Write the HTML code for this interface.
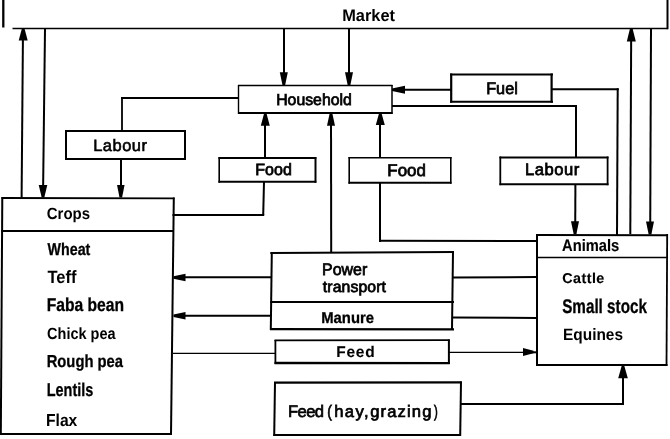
<!DOCTYPE html>
<html><head><meta charset="utf-8"><style>
html,body{margin:0;padding:0;background:#fff;width:670px;height:439px;overflow:hidden}
svg{display:block;filter:grayscale(1)}
text{font-family:"Liberation Sans",sans-serif;fill:#000;text-rendering:geometricPrecision}
</style></head><body>
<svg width="670" height="439" viewBox="0 0 670 439">
<g stroke="#000" fill="none" stroke-linecap="butt">
<line x1="3.3" y1="0" x2="3.3" y2="27.5" stroke-width="2.3"/>
<line x1="12.5" y1="28.5" x2="668" y2="28.5" stroke-width="1.4"/>
<line x1="667.5" y1="0" x2="667.5" y2="29.2" stroke-width="2"/>
<line x1="23" y1="29" x2="21.6" y2="197.5" stroke-width="2"/>
<polygon points="21.90,28.50 24.50,28.50 27.70,40.50 18.70,40.50" fill="#000" stroke="none"/>
<line x1="45" y1="29" x2="43" y2="197" stroke-width="2"/>
<polygon points="41.70,197.50 44.30,197.50 47.30,185.00 38.70,185.00" fill="#000" stroke="none"/>
<line x1="284" y1="29" x2="284" y2="85" stroke-width="2"/>
<polygon points="282.50,85.20 285.10,85.20 287.80,72.20 279.80,72.20" fill="#000" stroke="none"/>
<line x1="349" y1="29" x2="349" y2="85" stroke-width="2"/>
<polygon points="347.70,85.20 350.30,85.20 353.00,72.20 345.00,72.20" fill="#000" stroke="none"/>
<line x1="631.2" y1="29" x2="630.3" y2="234" stroke-width="2"/>
<polygon points="630.00,28.50 632.60,28.50 635.80,41.50 626.80,41.50" fill="#000" stroke="none"/>
<line x1="651" y1="29" x2="650.2" y2="234" stroke-width="2"/>
<polygon points="648.70,234.50 651.30,234.50 654.00,221.50 646.00,221.50" fill="#000" stroke="none"/>
<line x1="238" y1="85.5" x2="392.5" y2="85.5" stroke-width="1.3"/>
<line x1="238" y1="113" x2="392.5" y2="113" stroke-width="2"/>
<line x1="238.5" y1="85" x2="238.5" y2="114" stroke-width="1.4"/>
<line x1="392" y1="85" x2="392" y2="114" stroke-width="1.5"/>
<line x1="239" y1="98" x2="121" y2="98" stroke-width="1.8"/>
<line x1="122" y1="97.1" x2="122" y2="131" stroke-width="1.8"/>
<line x1="65" y1="131" x2="185.5" y2="131" stroke-width="2"/>
<line x1="65" y1="159" x2="185.5" y2="159" stroke-width="2"/>
<line x1="66" y1="130" x2="66" y2="160" stroke-width="2"/>
<line x1="185" y1="130" x2="185" y2="160" stroke-width="2"/>
<line x1="121" y1="159" x2="121" y2="197" stroke-width="2"/>
<polygon points="119.50,197.50 122.10,197.50 124.55,185.00 117.05,185.00" fill="#000" stroke="none"/>
<line x1="218.5" y1="158" x2="316.3" y2="158" stroke-width="2"/>
<line x1="218.5" y1="181.8" x2="316.3" y2="181.8" stroke-width="2"/>
<line x1="219.2" y1="157" x2="219.2" y2="182.8" stroke-width="1.6"/>
<line x1="315.5" y1="157" x2="315.5" y2="182.8" stroke-width="2"/>
<line x1="265" y1="157" x2="265" y2="114" stroke-width="2"/>
<polygon points="264.00,113.80 266.60,113.80 269.80,125.80 260.80,125.80" fill="#000" stroke="none"/>
<line x1="264" y1="182" x2="263.2" y2="215" stroke-width="2"/>
<line x1="264.2" y1="215" x2="172.5" y2="215" stroke-width="2"/>
<line x1="331.2" y1="252.6" x2="331" y2="114" stroke-width="2"/>
<polygon points="329.70,113.20 332.30,113.20 335.00,125.80 327.00,125.80" fill="#000" stroke="none"/>
<line x1="348.5" y1="157.8" x2="451.5" y2="157.8" stroke-width="1.6"/>
<line x1="348.5" y1="182.8" x2="451.5" y2="182.8" stroke-width="2"/>
<line x1="349.2" y1="157" x2="349.2" y2="183.8" stroke-width="1.6"/>
<line x1="450.8" y1="157" x2="450.8" y2="183.8" stroke-width="1.6"/>
<line x1="380" y1="157" x2="380" y2="114" stroke-width="2"/>
<polygon points="379.00,113.50 381.60,113.50 384.80,125.00 375.80,125.00" fill="#000" stroke="none"/>
<line x1="380" y1="183" x2="380" y2="242" stroke-width="2"/>
<line x1="379" y1="240.7" x2="537" y2="241" stroke-width="2"/>
<line x1="450" y1="74.5" x2="553" y2="74.5" stroke-width="2"/>
<line x1="450" y1="101.7" x2="553" y2="101.7" stroke-width="2"/>
<line x1="451.2" y1="73.5" x2="451.2" y2="102.7" stroke-width="2.2"/>
<line x1="551.6" y1="73.5" x2="551.6" y2="102.7" stroke-width="2.2"/>
<line x1="404" y1="89.8" x2="451" y2="89.8" stroke-width="2"/>
<polygon points="392.00,88.40 392.00,91.00 405.00,93.70 405.00,85.70" fill="#000" stroke="none"/>
<line x1="552" y1="89.2" x2="618.7" y2="89.2" stroke-width="2"/>
<line x1="617.7" y1="88.2" x2="617" y2="235" stroke-width="2"/>
<line x1="392" y1="106" x2="577" y2="106" stroke-width="2"/>
<line x1="576" y1="105" x2="576" y2="157.5" stroke-width="2"/>
<line x1="499.5" y1="157.5" x2="608.5" y2="157.5" stroke-width="2"/>
<line x1="499.5" y1="184.2" x2="608.5" y2="184.2" stroke-width="2"/>
<line x1="500.3" y1="156.5" x2="500.3" y2="185.2" stroke-width="1.8"/>
<line x1="607.6" y1="156.5" x2="607.6" y2="185.2" stroke-width="1.8"/>
<line x1="575.4" y1="184" x2="575.2" y2="234" stroke-width="2"/>
<polygon points="573.70,234.20 576.30,234.20 579.00,221.20 571.00,221.20" fill="#000" stroke="none"/>
<line x1="1.5" y1="198" x2="174.5" y2="198.3" stroke-width="1.8"/>
<line x1="2.3" y1="197" x2="0.8" y2="435" stroke-width="2"/>
<line x1="173.8" y1="197.5" x2="171" y2="435" stroke-width="2"/>
<line x1="0" y1="434" x2="172" y2="434" stroke-width="2"/>
<line x1="1.5" y1="231" x2="173.5" y2="231" stroke-width="2"/>
<line x1="536" y1="235" x2="668" y2="235.2" stroke-width="2"/>
<line x1="536" y1="365" x2="667.5" y2="365" stroke-width="2"/>
<line x1="537" y1="234" x2="537" y2="366" stroke-width="2"/>
<line x1="667.2" y1="234" x2="666.5" y2="366" stroke-width="1.8"/>
<line x1="537" y1="257.5" x2="667" y2="257.5" stroke-width="1.6"/>
<line x1="270.3" y1="253.1" x2="454" y2="251.9" stroke-width="2"/>
<line x1="270.3" y1="302" x2="454" y2="302" stroke-width="1.8"/>
<line x1="270" y1="329.2" x2="454" y2="329.4" stroke-width="2.2"/>
<line x1="271.8" y1="252" x2="270.8" y2="330" stroke-width="2"/>
<line x1="453" y1="251" x2="452" y2="329.5" stroke-width="2"/>
<line x1="185" y1="277.3" x2="271" y2="277.3" stroke-width="2"/>
<polygon points="173.50,276.20 173.50,278.80 185.50,281.25 185.50,273.75" fill="#000" stroke="none"/>
<line x1="185" y1="315.8" x2="271" y2="315.8" stroke-width="2"/>
<polygon points="173.50,314.50 173.50,317.10 185.50,319.55 185.50,312.05" fill="#000" stroke="none"/>
<line x1="453" y1="277.4" x2="537" y2="277" stroke-width="2"/>
<line x1="453" y1="317.6" x2="537" y2="318" stroke-width="2"/>
<line x1="274.5" y1="340.3" x2="449.8" y2="340.1" stroke-width="1.8"/>
<line x1="274.5" y1="363" x2="449.8" y2="363.2" stroke-width="2.3"/>
<line x1="275.4" y1="340" x2="275.4" y2="364" stroke-width="1.8"/>
<line x1="448.9" y1="339.5" x2="448.9" y2="364" stroke-width="2"/>
<line x1="173" y1="353.4" x2="275" y2="353.4" stroke-width="1.2"/>
<line x1="449" y1="352.3" x2="524" y2="352.3" stroke-width="1.2"/>
<polygon points="533.50,350.70 533.50,353.30 523.00,356.00 523.00,348.00" fill="#000" stroke="none"/>
<line x1="531" y1="352.3" x2="537" y2="352.3" stroke-width="2"/>
<line x1="274" y1="382.6" x2="461.8" y2="382.3" stroke-width="2.2"/>
<line x1="273.5" y1="435" x2="461" y2="435" stroke-width="2"/>
<line x1="275" y1="382" x2="274.2" y2="436" stroke-width="2"/>
<line x1="461" y1="381.5" x2="460.2" y2="436" stroke-width="2"/>
<line x1="460" y1="403.9" x2="624" y2="403.9" stroke-width="2"/>
<line x1="623" y1="405" x2="623" y2="366" stroke-width="2"/>
<polygon points="621.70,365.80 624.30,365.80 627.80,378.20 618.20,378.20" fill="#000" stroke="none"/>
</g>
<g>
<text x="342.20" y="21.30" font-size="16.68" font-weight="700" stroke="#000" stroke-width="0.0" textLength="52.80" lengthAdjust="spacingAndGlyphs" xml:space="preserve">Market</text>
<text x="276.20" y="105.30" font-size="15.91" font-weight="400" stroke="#000" stroke-width="0.75" textLength="75.60" lengthAdjust="spacingAndGlyphs" xml:space="preserve">Household</text>
<text x="486.20" y="93.90" font-size="16.60" font-weight="400" stroke="#000" stroke-width="0.75" textLength="31.60" lengthAdjust="spacingAndGlyphs" xml:space="preserve">Fuel</text>
<text x="93.20" y="150.80" font-size="16.47" font-weight="400" stroke="#000" stroke-width="0.6" textLength="53.80" lengthAdjust="spacing" xml:space="preserve">Labour</text>
<text x="255.30" y="175.10" font-size="16.30" font-weight="400" stroke="#000" stroke-width="0.75" textLength="36.50" lengthAdjust="spacingAndGlyphs" xml:space="preserve">Food</text>
<text x="387.30" y="176.00" font-size="16.90" font-weight="400" stroke="#000" stroke-width="0.75" textLength="38.60" lengthAdjust="spacing" xml:space="preserve">Food</text>
<text x="525.00" y="175.10" font-size="16.60" font-weight="400" stroke="#000" stroke-width="0.75" textLength="54.20" lengthAdjust="spacing" xml:space="preserve">Labour</text>
<text x="46.80" y="218.50" font-size="16.20" font-weight="700" stroke="#000" stroke-width="0.0" textLength="43.30" lengthAdjust="spacingAndGlyphs" xml:space="preserve">Crops</text>
<text x="47.60" y="255.40" font-size="17.07" font-weight="700" stroke="#000" stroke-width="0.3" textLength="42.70" lengthAdjust="spacingAndGlyphs" xml:space="preserve">Wheat</text>
<text x="47.50" y="282.60" font-size="17.84" font-weight="700" stroke="#000" stroke-width="0.0" textLength="29.00" lengthAdjust="spacingAndGlyphs" xml:space="preserve">Teff</text>
<text x="46.70" y="310.60" font-size="18.68" font-weight="700" stroke="#000" stroke-width="0.3" textLength="77.40" lengthAdjust="spacingAndGlyphs" xml:space="preserve">Faba bean</text>
<text x="47.10" y="338.50" font-size="16.20" font-weight="700" stroke="#000" stroke-width="0.0" textLength="68.40" lengthAdjust="spacingAndGlyphs" xml:space="preserve">Chick pea</text>
<text x="46.70" y="366.90" font-size="17.30" font-weight="700" stroke="#000" stroke-width="0.3" textLength="76.30" lengthAdjust="spacingAndGlyphs" xml:space="preserve">Rough pea</text>
<text x="46.70" y="396.40" font-size="18.39" font-weight="700" stroke="#000" stroke-width="0.3" textLength="46.60" lengthAdjust="spacingAndGlyphs" xml:space="preserve">Lentils</text>
<text x="46.00" y="425.90" font-size="17.30" font-weight="700" stroke="#000" stroke-width="0.0" textLength="31.30" lengthAdjust="spacingAndGlyphs" xml:space="preserve">Flax</text>
<text x="322.00" y="275.10" font-size="16.60" font-weight="400" stroke="#000" stroke-width="0.75" textLength="45.20" lengthAdjust="spacingAndGlyphs" xml:space="preserve">Power</text>
<text x="322.80" y="291.70" font-size="15.77" font-weight="400" stroke="#000" stroke-width="0.75" textLength="63.20" lengthAdjust="spacing" xml:space="preserve">transport</text>
<text x="321.20" y="322.50" font-size="15.69" font-weight="700" stroke="#000" stroke-width="0.3" textLength="52.80" lengthAdjust="spacingAndGlyphs" xml:space="preserve">Manure</text>
<text x="336.20" y="357.30" font-size="15.47" font-weight="700" stroke="#000" stroke-width="0.1" textLength="38.50" lengthAdjust="spacing" xml:space="preserve">Feed</text>
<text x="288.00" y="416.50" font-size="16.60" font-weight="400" stroke="#000" stroke-width="0.7" textLength="36.00" lengthAdjust="spacing" xml:space="preserve">Feed</text>
<text x="327.20" y="416.50" font-size="16.60" font-weight="400" stroke="#000" stroke-width="0.7" textLength="4.60" lengthAdjust="spacingAndGlyphs" xml:space="preserve">(</text>
<text x="334.20" y="416.50" font-size="16.60" font-weight="400" stroke="#000" stroke-width="0.7" textLength="34.30" lengthAdjust="spacing" xml:space="preserve">hay,</text>
<text x="370.20" y="416.50" font-size="16.60" font-weight="400" stroke="#000" stroke-width="0.7" textLength="61.20" lengthAdjust="spacing" xml:space="preserve">grazing</text>
<text x="434.00" y="416.50" font-size="16.60" font-weight="400" stroke="#000" stroke-width="0.7" textLength="3.80" lengthAdjust="spacingAndGlyphs" xml:space="preserve">)</text>
<text x="562.10" y="251.30" font-size="16.60" font-weight="700" stroke="#000" stroke-width="0.15" textLength="57.20" lengthAdjust="spacingAndGlyphs" xml:space="preserve">Animals</text>
<text x="562.20" y="282.60" font-size="14.30" font-weight="700" stroke="#000" stroke-width="0.15" textLength="42.10" lengthAdjust="spacing" xml:space="preserve">Cattle</text>
<text x="562.20" y="312.70" font-size="19.84" font-weight="700" stroke="#000" stroke-width="0.3" textLength="84.70" lengthAdjust="spacingAndGlyphs" xml:space="preserve">Small stock</text>
<text x="563.00" y="340.30" font-size="16.42" font-weight="700" stroke="#000" stroke-width="0.0" textLength="60.00" lengthAdjust="spacingAndGlyphs" xml:space="preserve">Equines</text>
</g>
</svg>
</body></html>
